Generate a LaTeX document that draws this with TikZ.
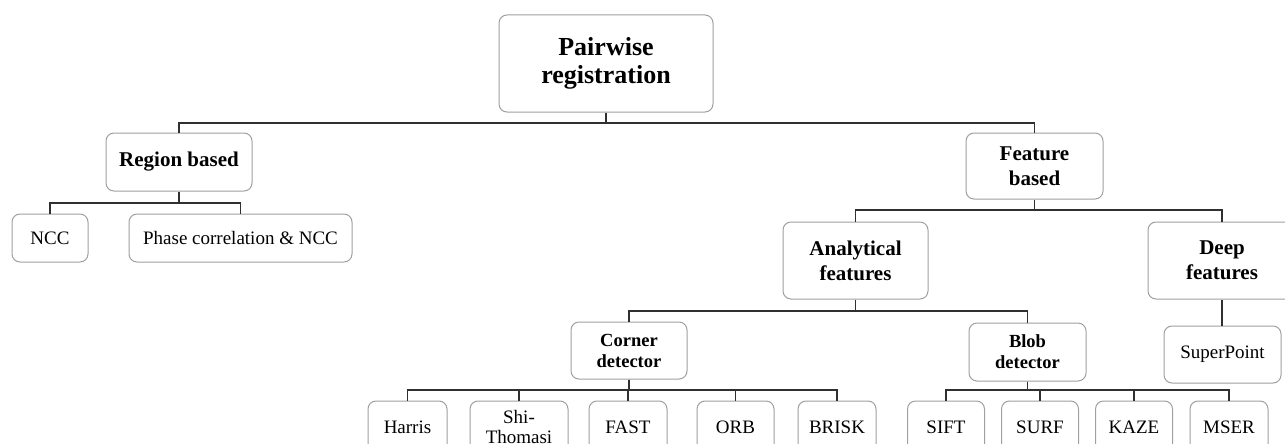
\documentclass[tikz,border=0pt]{standalone}
\usepackage{fontspec}
\setmainfont{Liberation Serif}
\definecolor{boxgray}{HTML}{A0A0A0}
\definecolor{linegray}{HTML}{303030}
\tikzset{
  box/.style={draw=boxgray, line width=1pt, rounded corners=8pt, align=center, inner sep=0pt, fill=white},
  link/.style={draw=linegray, line width=1.4pt},
  ftop/.style={font=\fontsize{26}{28}\selectfont\bfseries},
  fmid/.style={font=\fontsize{21}{25}\selectfont\bfseries},
  fsub/.style={font=\fontsize{18.5}{21}\selectfont\bfseries},
  fleaf/.style={font=\fontsize{19}{20}\selectfont},
  leaf/.style={box, fleaf, minimum height=52pt}
}
\begin{document}
\begin{tikzpicture}[x=1pt,y=-1pt]
\clip (0,0) rectangle (1285,444);
\fill[white] (0,0) rectangle (1285,444);
% nodes
\node[box, ftop, minimum width=214pt, minimum height=97pt] (root) at (606,63.5) {Pairwise\\registration};
\node[box, fmid, minimum width=146pt, minimum height=58pt] (region) at (179,162) {Region based};
\node[box, fleaf, minimum width=76pt, minimum height=48pt] (ncc) at (50,238) {NCC};
\node[box, fleaf, minimum width=223pt, minimum height=48pt] (phase) at (240.5,238) {Phase correlation \& NCC};
\node[box, fmid, minimum width=137pt, minimum height=66pt] (feature) at (1034.5,166) {Feature\\based};
\node[box, fmid, minimum width=145pt, minimum height=77pt] (analytical) at (855.5,260.5) {Analytical\\features};
\node[box, fmid, minimum width=148pt, minimum height=77pt] (deep) at (1222,260.5) {Deep\\features};
\node[box, fsub, minimum width=116pt, minimum height=57pt] (corner) at (629,350.5) {Corner\\detector};
\node[box, fsub, minimum width=117pt, minimum height=58pt] (blob) at (1027.5,352) {Blob\\detector};
\node[box, fleaf, minimum width=117pt, minimum height=57pt] (superpoint) at (1222.5,354.5) {SuperPoint};
\node[leaf, minimum width=79pt] (harris) at (407.5,427) {Harris};
\node[leaf, minimum width=98pt] (shi) at (519,427) {Shi-\\Thomasi};
\node[leaf, minimum width=78pt] (fast) at (628,427) {FAST};
\node[leaf, minimum width=77pt] (orb) at (735.5,427) {ORB};
\node[leaf, minimum width=78pt] (brisk) at (837,427) {BRISK};
\node[leaf, minimum width=77pt] (sift) at (946,427) {SIFT};
\node[leaf, minimum width=77pt] (surf) at (1040,427) {SURF};
\node[leaf, minimum width=77pt] (kaze) at (1134,427) {KAZE};
\node[leaf, minimum width=78pt] (mser) at (1229,427) {MSER};
% bus coordinates
\coordinate (b0) at (0,123);
\coordinate (b1) at (0,203);
\coordinate (b2) at (0,210);
\coordinate (b3) at (0,311);
\coordinate (b4) at (0,390);
% connectors
\foreach \c in {region,feature}
  \draw[link] (root.south) -- (root.south |- b0) -| (\c.north);
\foreach \c in {ncc,phase}
  \draw[link] (region.south) -- (region.south |- b1) -| (\c.north);
\foreach \c in {analytical,deep}
  \draw[link] (feature.south) -- (feature.south |- b2) -| (\c.north);
\foreach \c in {corner,blob}
  \draw[link] (analytical.south) -- (analytical.south |- b3) -| (\c.north);
\foreach \c in {harris,shi,fast,orb,brisk}
  \draw[link] (corner.south) -- (corner.south |- b4) -| (\c.north);
\foreach \c in {sift,surf,kaze,mser}
  \draw[link] (blob.south) -- (blob.south |- b4) -| (\c.north);
\draw[link] (deep.south) -- (superpoint.north -| deep.south);
\end{tikzpicture}
\end{document}
